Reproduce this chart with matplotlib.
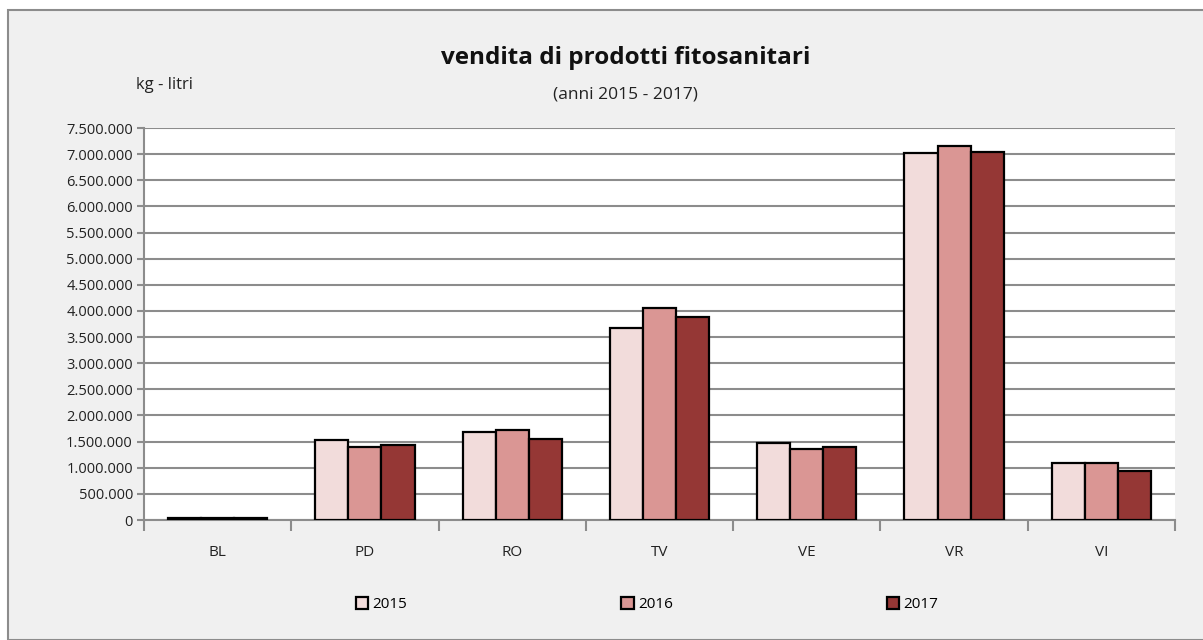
import numpy as np
import matplotlib.pyplot as plt
from matplotlib.patches import Rectangle
from matplotlib.ticker import FuncFormatter, MultipleLocator

# Data (kg - litri)
province = ["BL", "PD", "RO", "TV", "VE", "VR", "VI"]
anni = ["2015", "2016", "2017"]
v2015 = [45000, 1530000, 1690000, 3670000, 1480000, 7030000, 1100000]
v2016 = [42000, 1390000, 1720000, 4050000, 1350000, 7160000, 1100000]
v2017 = [40000, 1430000, 1550000, 3880000, 1390000, 7050000, 940000]
colori = ["#f2dcdb", "#da9694", "#953735"]

plt.rcParams["font.family"] = ["Open Sans", "DejaVu Sans"]

fig = plt.figure(figsize=(12.03, 6.4), dpi=100)
fig.patches.append(Rectangle((8 / 1203, 0), 1.0, 630 / 640, transform=fig.transFigure,
                             facecolor="#f0f0f0", edgecolor="#8c8c8c", lw=1.5, zorder=-10))

ax = fig.add_axes([144 / 1203, 120 / 640, 1031 / 1203, 392 / 640])
ax.set_facecolor("white")

x = np.arange(len(province))
w = 0.225
for i, (serie, c) in enumerate(zip([v2015, v2016, v2017], colori)):
    ax.bar(x + (i - 1) * w, serie, width=w, color=c, edgecolor="black",
           linewidth=1.6, label=anni[i], zorder=3)

ax.set_xlim(-0.5, len(province) - 0.5)
ax.set_ylim(0, 7500000)
ax.yaxis.set_major_locator(MultipleLocator(500000))
ax.yaxis.set_major_formatter(FuncFormatter(lambda v, p: f"{int(v):,}".replace(",", ".")))
ax.grid(axis="y", color="#8c8c8c", lw=1.5, zorder=0)

ax.set_xticks(np.arange(-0.5, len(province), 1.0))
ax.set_xticklabels([])
ax.set_xticks(x, minor=True)
ax.set_xticklabels(province, minor=True, fontsize=11, color="#222222")
ax.tick_params(axis="x", which="major", length=8, width=1.5, color="#8c8c8c", direction="out")
ax.tick_params(axis="x", which="minor", length=0, pad=18)
ax.tick_params(axis="y", length=5, width=1.5, color="#8c8c8c", labelsize=10.5,
               labelcolor="#222222", pad=3)

for s in ["top", "right"]:
    ax.spines[s].set_visible(False)
for s in ["left", "bottom"]:
    ax.spines[s].set_color("#8c8c8c")
    ax.spines[s].set_linewidth(1.5)

fig.text(0.52, 0.91, "vendita di prodotti fitosanitari", ha="center", va="center",
         fontsize=17.5, fontweight="bold", color="#111111")
fig.text(0.52, 0.853, "(anni 2015 - 2017)", ha="center", va="center",
         fontsize=12.5, color="#222222")
fig.text(164 / 1203, 0.867, "kg - litri", ha="center", va="center",
         fontsize=12, color="#222222")

fig.legend(loc="center", bbox_to_anchor=(0.538, 0.055), ncol=3, frameon=False,
           fontsize=11, handlelength=0.8, handleheight=0.8, handletextpad=0.3,
           columnspacing=14)

fig.savefig("out.png", dpi=100, facecolor="white")
